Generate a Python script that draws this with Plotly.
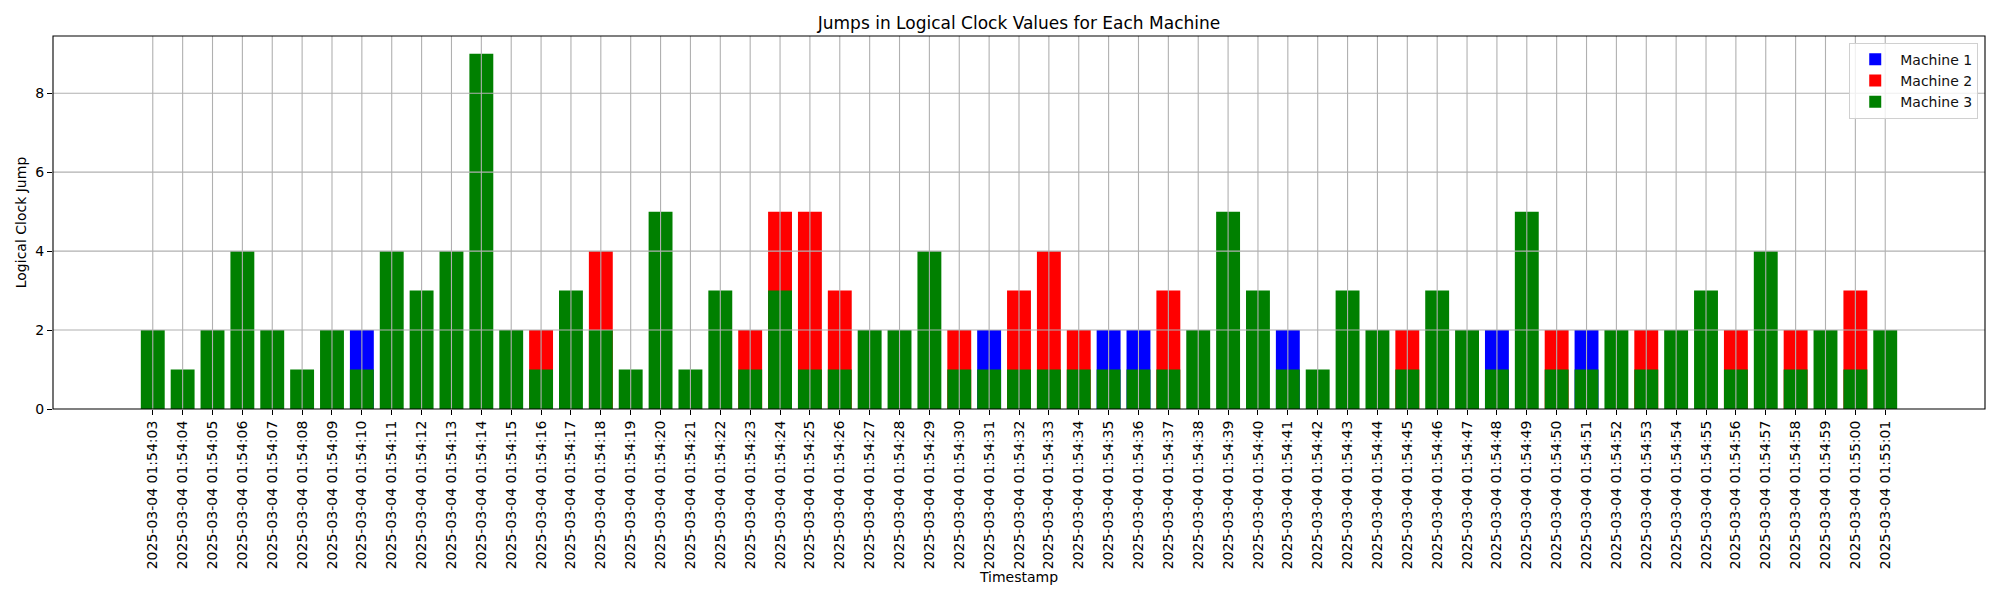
import plotly.graph_objects as go

timestamps = [f"2025-03-04 01:54:{s:02d}" for s in range(3, 60)] + [
    "2025-03-04 01:55:00", "2025-03-04 01:55:01"]

# Machine 3 (green) value at every timestamp
machine3 = [2, 1, 2, 4, 2, 1, 2, 1, 4, 3, 4, 9, 2, 1, 3, 2, 1, 5, 1, 3,
            1, 3, 1, 1, 2, 2, 4, 1, 1, 1, 1, 1, 1, 1, 1, 2, 5, 3, 1, 1,
            3, 2, 1, 3, 2, 1, 5, 1, 1, 2, 1, 2, 3, 1, 4, 1, 2, 1, 2]

# Machine 1 (blue) visible jumps
machine1_ts = ["2025-03-04 01:54:10", "2025-03-04 01:54:31", "2025-03-04 01:54:35",
               "2025-03-04 01:54:36", "2025-03-04 01:54:41", "2025-03-04 01:54:48",
               "2025-03-04 01:54:51"]
machine1 = [2, 2, 2, 2, 2, 2, 2]

# Machine 2 (red) visible jumps
machine2_ts = ["2025-03-04 01:54:16", "2025-03-04 01:54:18", "2025-03-04 01:54:23",
               "2025-03-04 01:54:24", "2025-03-04 01:54:25", "2025-03-04 01:54:26",
               "2025-03-04 01:54:30", "2025-03-04 01:54:32", "2025-03-04 01:54:33",
               "2025-03-04 01:54:34", "2025-03-04 01:54:37", "2025-03-04 01:54:45",
               "2025-03-04 01:54:50", "2025-03-04 01:54:53", "2025-03-04 01:54:56",
               "2025-03-04 01:54:58", "2025-03-04 01:55:00"]
machine2 = [2, 4, 2, 5, 5, 3, 2, 3, 4, 2, 3, 2, 2, 2, 2, 2, 3]

y_ticks = [0, 2, 4, 6, 8]

FONT = "DejaVu Sans"
GRID = "#b0b0b0"

fig = go.Figure()
fig.add_trace(go.Bar(x=machine1_ts, y=machine1, name="Machine 1",
                     marker=dict(color="blue", line=dict(width=0))))
fig.add_trace(go.Bar(x=machine2_ts, y=machine2, name="Machine 2",
                     marker=dict(color="red", line=dict(width=0))))
fig.add_trace(go.Bar(x=timestamps, y=machine3, name="Machine 3",
                     marker=dict(color="green", line=dict(width=0))))

# grid drawn above bars, as in the reference
shapes = []
for t in timestamps:
    shapes.append(dict(type="line", xref="x", yref="paper", x0=t, x1=t, y0=0, y1=1,
                       line=dict(color=GRID, width=1.1), layer="above"))
for v in y_ticks[1:]:
    shapes.append(dict(type="line", xref="paper", yref="y", x0=0, x1=1, y0=v, y1=v,
                       line=dict(color=GRID, width=1.1), layer="above"))
# axes frame on top
shapes.append(dict(type="rect", xref="paper", yref="paper", x0=0, x1=1, y0=0, y1=1,
                   line=dict(color="black", width=1.1), layer="above"))

n = len(timestamps)
fig.update_layout(
    width=2000, height=600,
    margin=dict(l=45, r=23, t=28, b=199, autoexpand=False),
    paper_bgcolor="white", plot_bgcolor="white",
    barmode="overlay", bargap=0.2,
    font=dict(family=FONT, size=14, color="black"),
    title=dict(text="Jumps in Logical Clock Values for Each Machine",
               x=0.5, xref="paper", xanchor="center",
               y=1 - 15 / 600, yref="container", yanchor="middle",
               font=dict(size=17, family=FONT, color="black")),
    shapes=shapes,
    showlegend=True,
    legend=dict(x=0.9965, y=0.982, xanchor="right", yanchor="top",
                bgcolor="rgba(255,255,255,0.8)", bordercolor="#d0d0d0", borderwidth=1,
                font=dict(size=14, family=FONT, color="#111"),
                traceorder="normal", itemwidth=40),
    xaxis=dict(type="category", categoryorder="array", categoryarray=timestamps,
               range=[-3.34, n - 1 + 3.34], tickangle=-90,
               ticks="outside", ticklen=5, tickwidth=1.1, tickcolor="black",
               showgrid=False, showline=False, zeroline=False,
               tickfont=dict(size=14, family=FONT, color="black"),
               title=dict(text="Timestamp", standoff=3,
                          font=dict(size=14, family=FONT, color="black")),
               automargin=False),
    yaxis=dict(range=[0, 9.45], tickvals=y_ticks, ticktext=[str(v) for v in y_ticks],
               ticks="outside", ticklen=5, tickwidth=1.1, tickcolor="black",
               showgrid=False, showline=False, zeroline=False,
               tickfont=dict(size=14, family=FONT, color="black"),
               title=dict(text="Logical Clock Jump", standoff=5,
                          font=dict(size=14, family=FONT, color="black")),
               automargin=False),
)

fig.write_html("out.html")
